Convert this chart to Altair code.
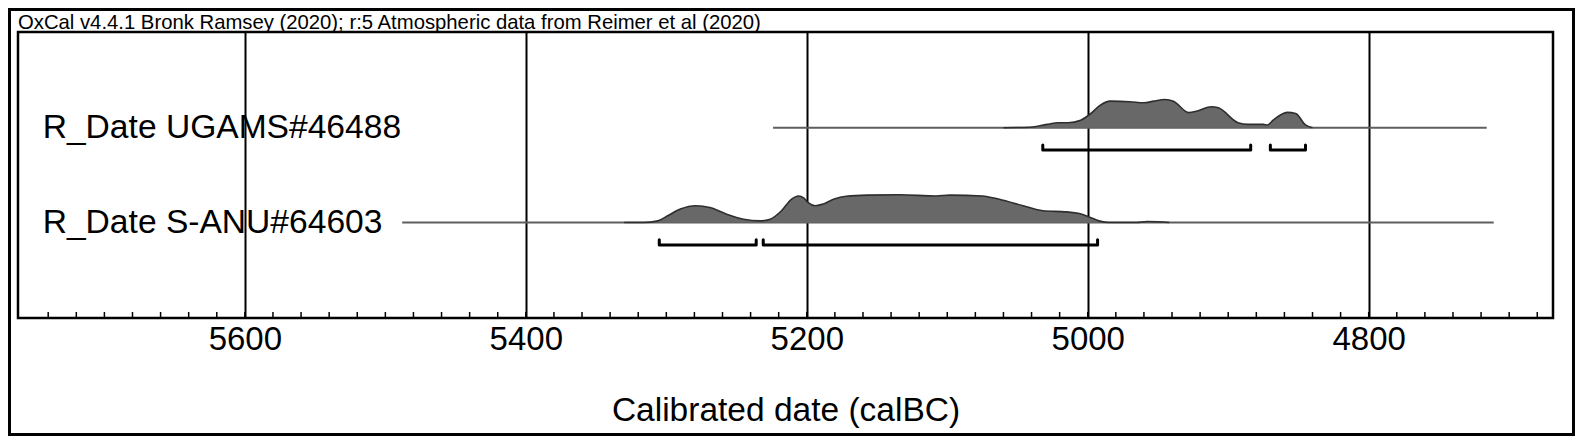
import altair as alt
import pandas as pd

FONT = "Liberation Sans"

# ---- data ----
header = "OxCal v4.4.1 Bronk Ramsey (2020); r:5 Atmospheric data from Reimer et al (2020)"
axis_title = "Calibrated date (calBC)"
major_years = [5600, 5400, 5200, 5000, 4800]

names = ["R_Date UGAMS#46488", "R_Date S-ANU#64603"]
rows = [1, 2]

# relative probability (arbitrary units, peak ~1)
ugams_years = [5060, 5041, 5029, 5021, 5014, 5005, 4998, 4991, 4984, 4970, 4960, 4953,
               4945, 4939, 4928, 4922, 4912, 4907, 4893, 4886, 4875, 4872, 4868, 4858,
               4852, 4845, 4840]
ugams_dens = [0.0, 0.02, 0.12, 0.18, 0.18, 0.27, 0.50, 0.81, 0.95, 0.93, 0.89, 0.95,
              1.01, 0.95, 0.54, 0.60, 0.75, 0.71, 0.18, 0.12, 0.12, 0.10, 0.27, 0.55,
              0.51, 0.10, 0.0]

sanu_years = [5330, 5316, 5306, 5299, 5290, 5279, 5269, 5257, 5245, 5233, 5226, 5218,
              5211, 5206, 5202, 5199, 5194, 5189, 5181, 5172, 5157, 5134, 5108, 5098,
              5075, 5063, 5046, 5032, 5015, 5006, 4999, 4992, 4985, 4965, 4958, 4950,
              4942]
sanu_dens = [0.0, 0.0, 0.06, 0.24, 0.48, 0.60, 0.54, 0.30, 0.12, 0.06, 0.12, 0.42,
             0.83, 0.95, 0.87, 0.71, 0.60, 0.65, 0.83, 0.94, 0.98, 0.99, 0.95, 0.98,
             0.95, 0.83, 0.60, 0.42, 0.38, 0.32, 0.20, 0.06, 0.0, 0.0, 0.035, 0.03,
             0.0]

# full calibrated range (thin baseline)
range_start = [5224, 5488]
range_end = [4716, 4711]

# 95.4% ranges (brackets)
ugams_ranges = [(5032, 4884), (4870, 4845)]
sanu_ranges = [(5305, 5236), (5231, 4993)]

# ---- tables ----
dens_rows = []
for yr, d in zip(ugams_years, ugams_dens):
    dens_rows.append({"sample": names[0], "row": rows[0], "year": yr, "dens": d})
for yr, d in zip(sanu_years, sanu_dens):
    dens_rows.append({"sample": names[1], "row": rows[1], "year": yr, "dens": d})
dens_df = pd.DataFrame(dens_rows)

base_df = pd.DataFrame({"sample": names, "row": rows, "start": range_start, "end": range_end})

br_rows = []
bid = 0
for r, rngs in zip(rows, [ugams_ranges, sanu_ranges]):
    for s, e in rngs:
        bid += 1
        br_rows += [
            {"bid": bid, "row": r, "year": s, "hook": 1, "i": 0},
            {"bid": bid, "row": r, "year": s, "hook": 0, "i": 1},
            {"bid": bid, "row": r, "year": e, "hook": 0, "i": 2},
            {"bid": bid, "row": r, "year": e, "hook": 1, "i": 3},
        ]
br_df = pd.DataFrame(br_rows)

minor_df = pd.DataFrame({"year": list(range(5740, 4670, -20))})
lab_df = pd.DataFrame({"name": names, "row": rows})

W, H = 1535, 286
xscale = alt.Scale(domain=[5761.5, 4668.8], nice=False, zero=False)
yscale = alt.Scale(domain=[-0.01, 3.007], reverse=True, nice=False, zero=False)
K = 0.2954  # relative density -> row units

x_axis = alt.Axis(
    values=major_years, grid=True, gridColor="black", gridWidth=2, gridOpacity=1,
    ticks=False, domain=False, labelFontSize=33, labelFont=FONT, labelColor="black",
    labelPadding=5, format="d", title=axis_title, titleFont=FONT, titleFontSize=33.5,
    titleFontWeight="normal", titleColor="black", titleBaseline="alphabetic", titleY=102,
)

grid = alt.Chart(minor_df).mark_rule(strokeOpacity=0).encode(
    x=alt.X("year:Q", scale=xscale, axis=x_axis)
)

minor = alt.Chart(minor_df).mark_rule(color="black", strokeWidth=1.5).encode(
    x=alt.X("year:Q", scale=xscale), y=alt.value(H - 6), y2=alt.value(H)
)

baseline = alt.Chart(base_df).mark_rule(color="#5e5e5e", strokeWidth=2).encode(
    x=alt.X("start:Q", scale=xscale), x2="end:Q",
    y=alt.Y("row:Q", scale=yscale, axis=None),
)

area = alt.Chart(dens_df).transform_calculate(
    top=f"datum.row - datum.dens * {K}"
).mark_area(color="#686868", opacity=1, interpolate="monotone").encode(
    x=alt.X("year:Q", scale=xscale),
    y=alt.Y("top:Q", scale=yscale, axis=None), y2="row:Q",
    detail="sample:N",
)

outline = alt.Chart(dens_df).transform_calculate(
    top=f"datum.row - datum.dens * {K}"
).mark_line(color="#2e2e2e", strokeWidth=1.6, interpolate="monotone").encode(
    x=alt.X("year:Q", scale=xscale),
    y=alt.Y("top:Q", scale=yscale, axis=None),
    detail="sample:N",
)

brackets = alt.Chart(br_df).transform_calculate(
    yy="datum.row + 0.236 - datum.hook * 0.055"
).mark_line(color="black", strokeWidth=3, strokeJoin="round", strokeCap="round").encode(
    x=alt.X("year:Q", scale=xscale),
    y=alt.Y("yy:Q", scale=yscale, axis=None),
    detail="bid:N", order="i:Q",
)

labels = alt.Chart(lab_df).mark_text(
    align="left", baseline="alphabetic", font=FONT, fontSize=33.6, color="black", dy=10.6
).encode(
    x=alt.value(24.7), y=alt.Y("row:Q", scale=yscale, axis=None), text="name:N"
)

head = alt.Chart(pd.DataFrame({"t": [header]})).mark_text(
    align="left", baseline="alphabetic", font=FONT, fontSize=20.3, color="black"
).encode(x=alt.value(0), y=alt.value(-3), text="t:N")

frame = alt.Chart(pd.DataFrame({"a": [0]})).mark_rect(
    fill=None, stroke="black", strokeWidth=3
).encode(x=alt.value(-8.5), x2=alt.value(1555.5), y=alt.value(-22.5), y2=alt.value(402.5))

chart = alt.layer(
    grid, minor, baseline, area, outline, brackets, labels, head, frame
).properties(
    width=W, height=H,
    autosize=alt.AutoSizeParams(type="none"),
    padding={"left": 10, "top": 24, "right": 22, "bottom": 118},
    background="white",
).configure_view(
    stroke="black", strokeWidth=2.5
)

chart.save("out.html", embed_options={"renderer": "svg", "actions": False})
